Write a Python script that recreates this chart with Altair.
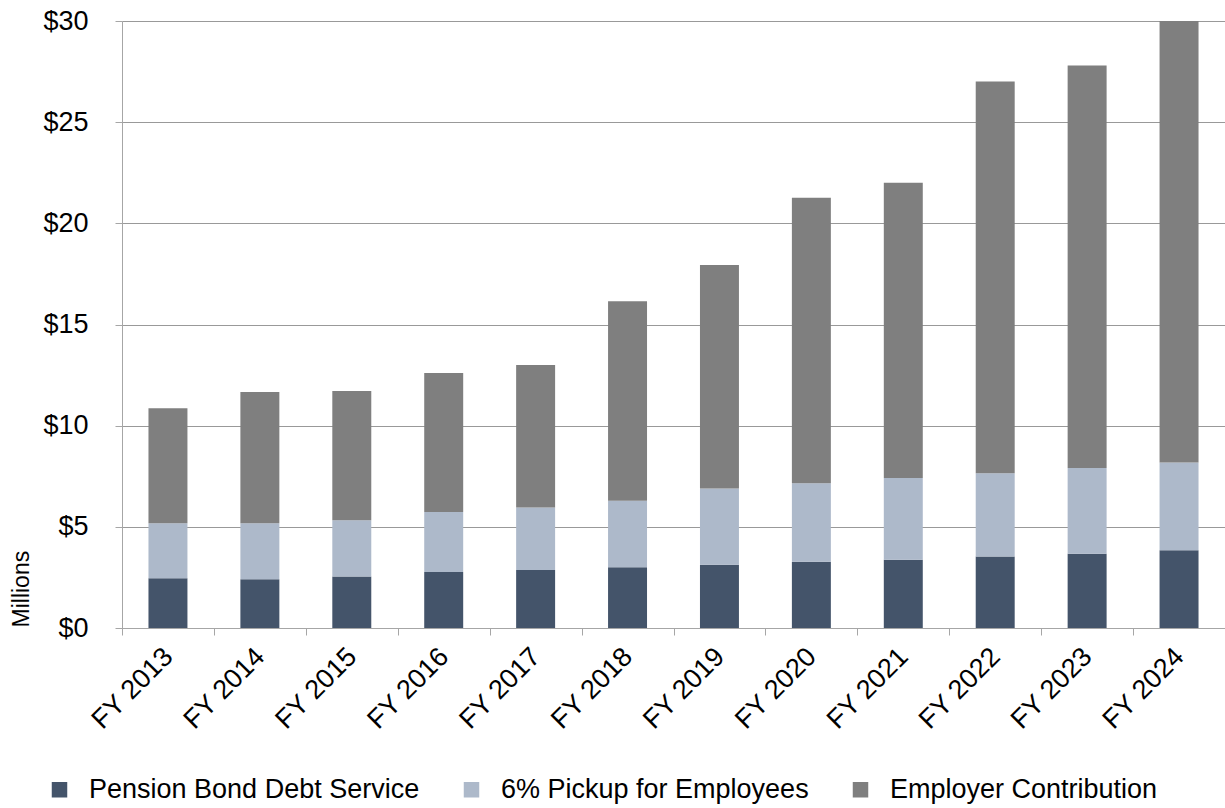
import altair as alt
import pandas as pd

years = ["FY 2013", "FY 2014", "FY 2015", "FY 2016", "FY 2017", "FY 2018",
         "FY 2019", "FY 2020", "FY 2021", "FY 2022", "FY 2023", "FY 2024"]
series = ["Pension Bond Debt Service", "6% Pickup for Employees", "Employer Contribution"]
colors = ["#44546A", "#ADB9CA", "#7F7F7F"]

bond = [2.46, 2.41, 2.55, 2.77, 2.87, 3.00, 3.13, 3.28, 3.37, 3.53, 3.67, 3.84]
pickup = [2.72, 2.77, 2.77, 2.96, 3.08, 3.29, 3.76, 3.87, 4.04, 4.12, 4.24, 4.34]
employer = [5.68, 6.49, 6.39, 6.87, 7.05, 9.86, 11.05, 14.11, 14.59, 19.36, 19.89, 21.82]

y_ticks = [0, 5, 10, 15, 20, 25, 30]

rows = []
for i, y in enumerate(years):
    for k, (name, vals) in enumerate(zip(series, [bond, pickup, employer])):
        rows.append({"year": y, "series": name, "value": vals[i], "order": k})
df = pd.DataFrame(rows)

FONT = "Liberation Sans"

chart = alt.Chart(df).mark_bar(width=alt.RelativeBandSize(0.424)).encode(
    x=alt.X("year:N", sort=years, title=None,
            scale=alt.Scale(paddingInner=0, paddingOuter=0),
            axis=alt.Axis(labelAngle=-45, labelFontSize=27, labelFont=FONT,
                          labelColor="#000000", tickBand="extent", tickSize=7,
                          tickColor="#A6A6A6", domainColor="#A6A6A6",
                          labelPadding=8, labelOffset=-9, grid=False)),
    y=alt.Y("value:Q", stack="zero", title="Millions",
            scale=alt.Scale(domain=[0, 30], nice=False),
            axis=alt.Axis(values=y_ticks, labelExpr="'$' + datum.value",
                          labelFontSize=27, labelFont=FONT, labelColor="#000000",
                          tickSize=7, tickColor="#A6A6A6", domainColor="#A6A6A6",
                          labelPadding=27, gridColor="#999999", gridWidth=1,
                          titleFont=FONT, titleFontSize=23, titleFontWeight="normal",
                          titleColor="#000000", titleAngle=270, titleAlign="left",
                          titleBaseline="middle", titleX=-101, titleY=606)),
    color=alt.Color("series:N", scale=alt.Scale(domain=series, range=colors),
                    legend=alt.Legend(orient="none", legendX=-76, legendY=755,
                                      direction="horizontal", title=None,
                                      symbolType="square", symbolSize=240,
                                      symbolStrokeWidth=0, labelFont=FONT,
                                      labelFontSize=27, labelColor="#000000",
                                      labelOffset=16, columnPadding=38,
                                      labelLimit=600)),
    order=alt.Order("order:Q", sort="ascending"),
).properties(
    width=1103, height=607,
    autosize=alt.AutoSizeParams(type="none"),
    padding={"left": 122, "top": 21, "right": 0, "bottom": 180},
).configure_view(stroke=None).configure(background="#FFFFFF")

chart.save("out.html", embed_options={"renderer": "svg", "actions": False})
